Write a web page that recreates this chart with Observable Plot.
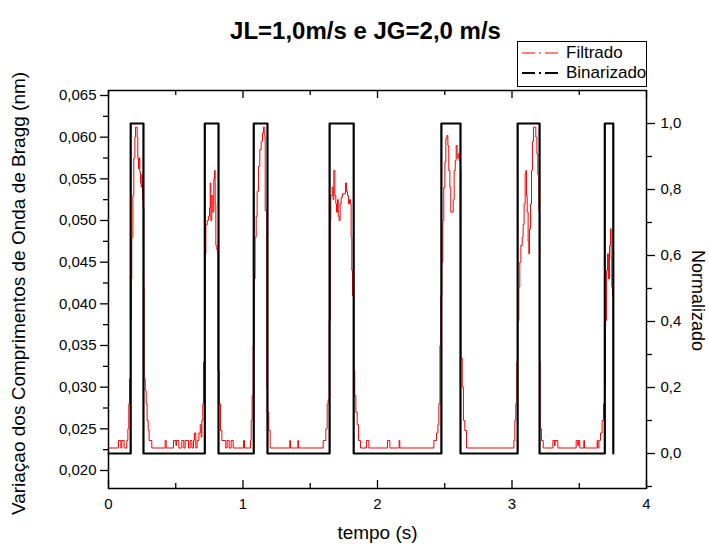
<!DOCTYPE html>
<html><head><meta charset="utf-8">
<script src="https://cdn.jsdelivr.net/npm/d3@7"></script>
<script src="https://cdn.jsdelivr.net/npm/@observablehq/plot@0.6"></script>
<style>
body{margin:0;background:#fff;font-family:"Liberation Sans",Arial,sans-serif;}
#wrap{position:relative;width:709px;height:549px;}
#legend{position:absolute;left:517px;top:41px;width:130px;height:46px;border:1px solid #000;box-sizing:border-box;background:#fff;font-size:17px;color:#000;}
.row{position:absolute;left:3px;height:20px;display:flex;align-items:center;gap:5px;white-space:nowrap;}
</style></head><body><div id="wrap"></div>
<script>
// ---- data ----
const title = "JL=1,0m/s e JG=2,0 m/s";
const xLabel = "tempo (s)";
const yLabelLeft = "Variaçao dos Comprimentos de Onda de Bragg (nm)";
const yLabelRight = "Normalizado";
const seriesNames = ["Filtrado", "Binarizado"];

const tempoFiltrado = [0,0.074,0.092,0.099,0.116,0.136,0.144,0.151,0.156,0.164,0.169,0.173,0.181,0.188,0.196,0.201,0.213,0.218,0.223,0.228,0.233,0.238,0.243,0.248,0.253,0.258,0.263,0.265,0.273,0.280,0.287,0.295,0.302,0.322,
0.421,0.429,0.483,0.501,0.506,0.523,0.545,0.560,0.570,0.595,0.607,0.620,0.632,0.639,0.649,0.659,0.672,0.682,0.689,0.694,0.701,0.706,0.714,0.719,0.724,0.734,0.743,0.751,0.756,0.761,0.768,0.776,0.783,0.788,0.793,0.798,0.805,0.813,0.823,0.833,0.843,0.872,0.882,0.897,0.912,0.927,
1.004,1.011,1.056,1.061,1.068,1.076,1.083,1.090,1.098,1.105,1.115,1.125,1.135,1.145,1.152,1.162,1.165,1.177,1.180,1.192,1.202,
1.348,1.353,1.408,1.413,1.596,1.616,1.626,1.633,1.641,1.648,1.653,1.663,1.670,1.675,1.683,1.690,1.695,1.703,1.708,1.715,1.722,1.730,1.740,1.762,1.770,1.777,1.784,1.792,1.799,1.804,1.809,1.814,1.824,1.831,1.839,1.849,1.859,1.874,
1.918,1.936,2.074,2.092,2.161,2.166,2.419,2.439,2.449,2.456,2.464,2.471,2.478,2.486,2.493,2.501,2.508,2.516,2.523,2.530,2.538,2.545,2.555,2.563,2.570,2.578,2.585,2.592,2.600,2.607,2.617,2.620,2.630,2.639,2.649,2.662,
3.014,3.021,3.028,3.036,3.043,3.051,3.058,3.066,3.076,3.083,3.090,3.098,3.103,3.108,3.113,3.120,3.125,3.130,3.138,3.145,3.152,3.160,3.177,3.185,3.192,3.200,3.205,3.209,3.219,3.232,
3.304,3.316,3.321,3.341,3.477,3.489,3.494,3.504,3.534,3.539,3.633,3.638,3.646,3.658,3.670,3.680,3.688,3.695,3.703,3.710,3.717,3.725,3.732,3.737,3.742,3.747];

const filtrado = [0.0227,0.0236,0.0227,0.0236,0.0227,0.0236,0.0250,0.0280,0.0310,0.0380,0.0430,0.0480,0.0530,0.0575,0.0600,0.0612,0.0600,0.0575,0.0562,0.0575,0.0558,0.0545,0.0540,0.0555,0.0525,0.0515,0.0420,0.0310,0.0296,0.0280,0.0260,0.0248,0.0236,0.0227,
0.0236,0.0227,0.0236,0.0230,0.0236,0.0227,0.0236,0.0227,0.0236,0.0227,0.0236,0.0227,0.0236,0.0245,0.0227,0.0236,0.0245,0.0255,0.0240,0.0260,0.0280,0.0330,0.0380,0.0460,0.0495,0.0500,0.0505,0.0515,0.0545,0.0500,0.0530,0.0510,0.0550,0.0560,0.0520,0.0470,0.0465,0.0320,0.0280,0.0248,0.0236,0.0227,0.0236,0.0227,0.0236,0.0227,
0.0236,0.0227,0.0236,0.0260,0.0290,0.0350,0.0430,0.0480,0.0505,0.0535,0.0565,0.0585,0.0595,0.0605,0.0612,0.0600,0.0512,0.0300,0.0270,0.0248,0.0227,
0.0236,0.0227,0.0236,0.0227,0.0236,0.0250,0.0280,0.0285,0.0380,0.0500,0.0530,0.0540,0.0525,0.0560,0.0530,0.0520,0.0510,0.0525,0.0505,0.0500,0.0520,0.0528,0.0532,0.0545,0.0535,0.0530,0.0520,0.0525,0.0520,0.0480,0.0440,0.0410,0.0320,0.0290,0.0270,0.0255,0.0236,0.0227,
0.0236,0.0227,0.0236,0.0227,0.0236,0.0227,0.0236,0.0245,0.0255,0.0280,0.0350,0.0410,0.0450,0.0500,0.0540,0.0570,0.0598,0.0602,0.0590,0.0560,0.0540,0.0510,0.0510,0.0525,0.0560,0.0572,0.0590,0.0575,0.0580,0.0572,0.0560,0.0335,0.0300,0.0260,0.0248,0.0227,
0.0236,0.0260,0.0280,0.0330,0.0380,0.0420,0.0450,0.0470,0.0480,0.0495,0.0520,0.0556,0.0560,0.0530,0.0510,0.0475,0.0460,0.0490,0.0520,0.0560,0.0595,0.0612,0.0600,0.0580,0.0555,0.0512,0.0330,0.0250,0.0236,0.0227,
0.0236,0.0230,0.0236,0.0227,0.0236,0.0230,0.0236,0.0227,0.0236,0.0227,0.0236,0.0227,0.0236,0.0245,0.0260,0.0280,0.0300,0.0380,0.0440,0.0460,0.0430,0.0470,0.0490,0.0455,0.0420,0.0410];

const tempoBinarizado = [0,0.165,0.260,0.716,0.818,1.080,1.182,1.644,1.823,2.475,2.617,3.042,3.205,3.690,3.753];
const binarizado =      [0,1,0,1,0,1,0,1,0,1,0,1,0,1,0];

const xTicksMajor = [0,1,2,3,4];
const xTicksMinor = [0.5,1.5,2.5,3.5];
const yTicksLeft = [0.020,0.025,0.030,0.035,0.040,0.045,0.050,0.055,0.060,0.065];
const yTicksLeftMinor = [0.0225,0.0275,0.0325,0.0375,0.0425,0.0475,0.0525,0.0575,0.0625];
const yTicksRight = [0.0,0.2,0.4,0.6,0.8,1.0];
const yTicksRightMinor = [-0.1,0.1,0.3,0.5,0.7,0.9];

// ---- scales ----
const yMin = 0.01784, yMax = 0.0656;
const normBase = 0.02204, normSpan = 0.0396; // right axis 0..1 in left-axis units
const toLeft = n => normBase + normSpan * n;
const fromLeft = v => (v - normBase) / normSpan;
const plotH = 549 - 90 - 61;
const unitPerPx = (yMax - yMin) / plotH;

const redData = tempoFiltrado.map((t, i) => ({t, v: filtrado[i]}));
const blackData = tempoBinarizado.map((t, i) => ({t, v: toLeft(binarizado[i])}));

const fmtComma = (d, n) => d.toFixed(n).replace(".", ",");

const chart = Plot.plot({
  width: 709, height: 549,
  marginLeft: 108, marginRight: 63, marginTop: 90, marginBottom: 61,
  x: {domain: [0, 4], label: null},
  y: {domain: [yMin, yMax], label: null},
  style: {fontFamily: '"Liberation Sans", Arial, sans-serif', fontSize: "15px", background: "white", color: "black"},
  marks: [
    Plot.line(redData, {x: "t", y: "v", curve: "step-after", stroke: "#ff0000", strokeWidth: 1}),
    Plot.line(blackData, {x: "t", y: "v", curve: "step-after", stroke: "#000", strokeWidth: 2.2}),
    Plot.frame({stroke: "#000", strokeWidth: 1.5}),
    // left axis
    Plot.axisY({anchor: "left", ticks: yTicksLeft, tickSize: 8, tickPadding: 4, tickFormat: d => fmtComma(d, 3), label: null, strokeWidth: 1.3}),
    Plot.axisY({anchor: "left", ticks: yTicksLeftMinor, tickSize: 5, tickFormat: () => "", label: null, strokeWidth: 1.3}),
    // right axis (Normalizado)
    Plot.axisY({anchor: "right", ticks: yTicksRight.map(toLeft), tickSize: 8, tickPadding: 6, tickFormat: d => fmtComma(fromLeft(d) + 0, 1).replace("-0,0", "0,0"), label: null, strokeWidth: 1.3}),
    Plot.axisY({anchor: "right", ticks: yTicksRightMinor.map(toLeft), tickSize: 5, tickFormat: () => "", label: null, strokeWidth: 1.3}),
    // bottom axis labels
    Plot.axisX({anchor: "bottom", ticks: xTicksMajor, tickSize: 0, tickPadding: 10, tickFormat: d => String(d), label: null}),
    // inward x ticks (bottom and top)
    Plot.ruleX(xTicksMajor, {y1: yMin, y2: yMin + 8 * unitPerPx, stroke: "#000", strokeWidth: 1.3}),
    Plot.ruleX(xTicksMinor, {y1: yMin, y2: yMin + 5 * unitPerPx, stroke: "#000", strokeWidth: 1.3}),
    Plot.ruleX(xTicksMajor, {y1: yMax, y2: yMax - 8 * unitPerPx, stroke: "#000", strokeWidth: 1.3}),
    Plot.ruleX(xTicksMinor, {y1: yMax, y2: yMax - 5 * unitPerPx, stroke: "#000", strokeWidth: 1.3}),
    // titles
    Plot.text([title], {text: d => d, frameAnchor: "top", textAnchor: "middle", dy: -69, dx: -12, fontSize: 24, fontWeight: "bold"}),
    Plot.text([xLabel], {text: d => d, frameAnchor: "bottom", textAnchor: "middle", dy: 50, fontSize: 19}),
    Plot.text([yLabelLeft], {text: d => d, frameAnchor: "left", textAnchor: "middle", lineAnchor: "middle", dx: -90, dy: 4, rotate: -90, fontSize: 19}),
    Plot.text([yLabelRight], {text: d => d, frameAnchor: "right", textAnchor: "middle", lineAnchor: "middle", dx: 51, dy: 11, rotate: 90, fontSize: 18})
  ]
});

const wrap = document.getElementById("wrap");
wrap.appendChild(chart);
chart.style.position = "absolute";
chart.style.left = "0px";
chart.style.top = "0px";

// legend
const legend = document.createElement("div");
legend.id = "legend";
const colors = ["#ff0000", "#000"];
const widths = [1, 2];
seriesNames.forEach((name, i) => {
  const row = document.createElement("div");
  row.className = "row";
  row.style.top = (i === 0 ? 1 : 21) + "px";
  row.innerHTML = `<svg width="40" height="10"><line x1="1" x2="39" y1="5" y2="5" stroke="${colors[i]}" stroke-width="${widths[i]}" stroke-dasharray="13,4,2,4"/></svg><span>${name}</span>`;
  legend.appendChild(row);
});
wrap.appendChild(legend);
</script>
</body></html>
